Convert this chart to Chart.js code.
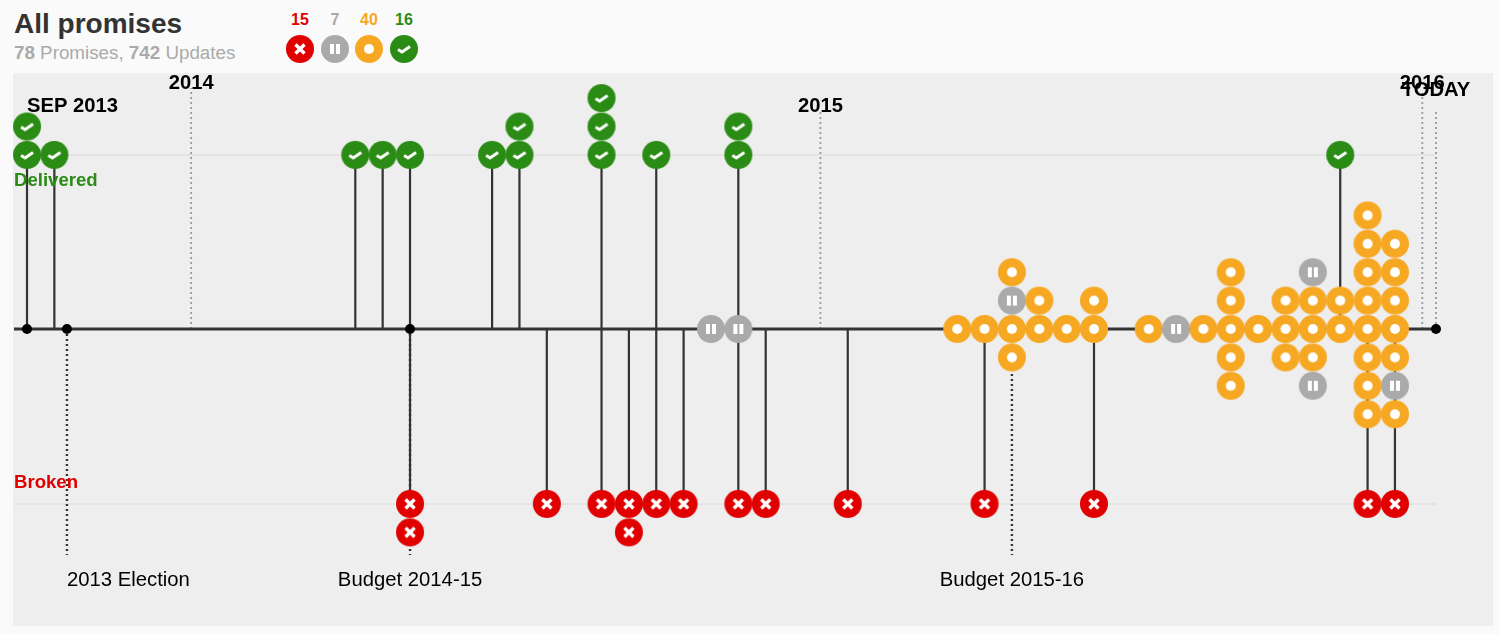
<!DOCTYPE html>
<html>
<head>
<meta charset="utf-8">
<title>All promises</title>
<script src="https://cdn.jsdelivr.net/npm/chart.js@4"></script>
<style>
  body { margin: 0; background: #fafafa; font-family: "Liberation Sans", Arial, sans-serif; }
  #panel { position: absolute; left: 13px; top: 73px; width: 1480px; height: 553px; background: #eee; }
  #wrap { position: absolute; left: 0; top: 0; width: 1500px; height: 634px; }
  h1 { position: absolute; left: 14px; top: 8px; margin: 0; font-size: 28px; line-height: 32px; color: #333; }
  #sub { position: absolute; left: 14px; top: 42px; font-size: 18.8px; line-height: 22px; color: #aaa; }
  .count { position: absolute; top: 11px; width: 40px; text-align: center; font-size: 16px; line-height: 18px; font-weight: bold; }
  .badge { position: absolute; top: 34px; }
</style>
</head>
<body>
<div id="panel"></div>
<h1>All promises</h1>
<div id="sub"><b>78</b> Promises, <b>742</b> Updates</div>
<div id="legend"></div>
<div id="wrap"><canvas id="timeline"></canvas></div>

<script>
// x = slot along the timeline, y = rows above (+) or below (-) the main line
const deliveredX = [0, 0, 1, 12, 13, 14, 17, 18, 18, 21, 21, 21, 23, 26, 26, 48];
const deliveredY = [6.13, 7.13, 6.13, 6.13, 6.13, 6.13, 6.13, 6.13, 7.13, 6.13, 7.13, 8.13, 6.13, 6.13, 7.13, 6.13];

const brokenX = [14, 14, 19, 21, 22, 22, 23, 24, 26, 27, 30, 35, 39, 49, 50];
const brokenY = [-6.16, -7.16, -6.16, -6.16, -6.16, -7.16, -6.16, -6.16, -6.16, -6.16, -6.16, -6.16, -6.16, -6.16, -6.16];

const stalledX = [25, 26, 36, 42, 47, 47, 50];
const stalledY = [0, 0, 1, 0, 2, -2, -2];

const progressX = [34, 35, 36, 36, 36, 37, 37, 38, 39, 39, 41, 43, 44, 44, 44, 44, 44, 45, 46, 46, 46, 47, 47, 47, 48, 48,
  49, 49, 49, 49, 49, 49, 49, 49, 50, 50, 50, 50, 50, 50];
const progressY = [0, 0, 2, 0, -1, 1, 0, 0, 1, 0, 0, 0, 2, 1, 0, -1, -2, 0, 1, 0, -1, 1, 0, -1, 1, 0,
  4, 3, 2, 1, 0, -1, -2, -3, 3, 2, 1, 0, -1, -3];

const statusNames = ["broken", "stalled", "progress", "delivered"];
const statusCounts = [15, 7, 40, 16];

const yearLabels = ["2014", "2015", "2016"];
const yearX = [6, 29, 51];
const yearTop = [8.49, 7.64, 8.31];
const todayX = 51.5;
const todayTop = 7.64;
const startX = -0.475;

const eventLabels = ["2013 Election", "Budget 2014-15", "Budget 2015-16"];
const eventX = [1.46, 14, 36];
const eventBottom = -7.96;
const markerX = [0, 1.46, 14, 51.5];

const colors = { broken: "#e00000", stalled: "#aaaaaa", progress: "#f7a823", delivered: "#2a8c15" };

function makeIcon(kind) {
  const c = document.createElement("canvas");
  c.width = 30;
  c.height = 30;
  const g = c.getContext("2d");
  g.fillStyle = colors[kind];
  g.beginPath();
  g.arc(15, 15, 14, 0, Math.PI * 2);
  g.fill();
  g.fillStyle = "#fff";
  g.strokeStyle = "#fff";
  g.lineWidth = 3.4;
  if (kind === "broken") {
    g.beginPath();
    g.moveTo(10.5, 10.5);
    g.lineTo(19.5, 19.5);
    g.moveTo(19.5, 10.5);
    g.lineTo(10.5, 19.5);
    g.stroke();
  } else if (kind === "stalled") {
    g.fillRect(10, 10, 4, 10);
    g.fillRect(16, 10, 4, 10);
  } else if (kind === "progress") {
    g.beginPath();
    g.arc(15, 15, 5, 0, Math.PI * 2);
    g.fill();
  } else {
    g.lineWidth = 3;
    g.beginPath();
    g.moveTo(9, 15.5);
    g.lineTo(13, 18);
    g.lineTo(21, 12.5);
    g.stroke();
  }
  return c;
}

const icons = {};
statusNames.forEach(function (name) {
  icons[name] = makeIcon(name);
});

// header counts with their badges
const legendCenters = [300, 335, 369, 404];
statusNames.forEach(function (name, i) {
  const n = document.createElement("div");
  n.className = "count";
  n.style.left = legendCenters[i] - 20 + "px";
  n.style.color = colors[name];
  n.textContent = statusCounts[i];
  document.getElementById("legend").appendChild(n);
  const b = makeIcon(name);
  b.className = "badge";
  b.style.left = legendCenters[i] - 15 + "px";
  document.getElementById("legend").appendChild(b);
});

function toPoints(xs, ys) {
  return xs.map(function (x, i) {
    return { x: x, y: ys[i] };
  });
}

// vertical segments from the main line, separated by gaps
function stems(xs, ys) {
  const pts = [];
  xs.forEach(function (x, i) {
    pts.push({ x: x, y: 0 }, { x: x, y: ys[i] }, { x: x, y: null });
  });
  return pts;
}

function lineSet(data, color, width, dash, order) {
  return {
    data: data,
    showLine: true,
    borderColor: color,
    borderWidth: width,
    borderDash: dash,
    pointRadius: 0,
    spanGaps: false,
    order: order,
  };
}

function iconSet(kind, xs, ys) {
  return {
    data: toPoints(xs, ys),
    pointStyle: icons[kind],
    pointRadius: 14,
    showLine: false,
    clip: false,
    order: 1,
  };
}

const deliveredRows = deliveredY.filter(function (y) { return y === 6.13; });
const deliveredBase = deliveredX.filter(function (x, i) { return deliveredY[i] === 6.13; });
const brokenRows = brokenY.filter(function (y) { return y === -6.16; });
const brokenBase = brokenX.filter(function (x, i) { return brokenY[i] === -6.16; });

const labelPlugin = {
  id: "timelineLabels",
  afterDatasetsDraw(chart) {
    const g = chart.ctx;
    const sx = chart.scales.x;
    function put(text, x, y, font, color, align) {
      g.font = font + ' "Liberation Sans", Arial, sans-serif';
      g.fillStyle = color;
      g.textAlign = align;
      g.textBaseline = "middle";
      g.fillText(text, x, y);
    }
    g.save();
    const yearY = [83, 106, 83];
    yearLabels.forEach(function (t, i) {
      put(t, sx.getPixelForValue(yearX[i]), yearY[i], "bold 20.2px", "#000", "center");
    });
    put("TODAY", sx.getPixelForValue(todayX), 90, "bold 20.2px", "#000", "center");
    put("SEP 2013", 27, 106, "bold 20.2px", "#000", "left");
    put("Delivered", 14, 181, "bold 18.6px", colors.delivered, "left");
    put("Broken", 14, 483, "bold 18.6px", colors.broken, "left");
    put(eventLabels[0], sx.getPixelForValue(eventX[0]), 580, "20.3px", "#000", "left");
    put(eventLabels[1], sx.getPixelForValue(eventX[1]), 580, "20.3px", "#000", "center");
    put(eventLabels[2], sx.getPixelForValue(eventX[2]), 580, "20.3px", "#000", "center");
    g.restore();
  },
};

new Chart(document.getElementById("timeline").getContext("2d"), {
  type: "scatter",
  data: {
    datasets: [
      iconSet("delivered", deliveredX, deliveredY),
      iconSet("broken", brokenX, brokenY),
      iconSet("stalled", stalledX, stalledY),
      iconSet("progress", progressX, progressY),
      {
        data: markerX.map(function (x) { return { x: x, y: 0 }; }),
        pointRadius: 5,
        backgroundColor: "#000",
        borderWidth: 0,
        order: 2,
      },
      lineSet(stems(deliveredBase, deliveredRows), "#333", 2.2, [], 3),
      lineSet(stems(brokenBase, brokenRows), "#333", 2.2, [], 3),
      lineSet([{ x: startX, y: 0 }, { x: todayX, y: 0 }], "#333", 3, [], 4),
      lineSet(stems(eventX, eventX.map(function () { return eventBottom; })), "#333", 2.4, [2, 3], 5),
      lineSet(stems(yearX, yearTop), "#999", 1.8, [2, 3], 5),
      lineSet(stems([todayX], [todayTop]), "#999", 1.8, [2, 3], 5),
      lineSet([{ x: startX, y: 6.13 }, { x: todayX, y: 6.13 }], "#e4e4e4", 2, [], 6),
      lineSet([{ x: startX, y: -6.16 }, { x: todayX, y: -6.16 }], "#e4e4e4", 2, [], 6),
    ],
  },
  options: {
    responsive: true,
    maintainAspectRatio: false,
    animation: false,
    layout: { padding: 0, autoPadding: false },
    plugins: {
      legend: { display: false },
      tooltip: { enabled: false },
    },
    scales: {
      x: { type: "linear", display: false, min: -0.987, max: 53.84 },
      y: { type: "linear", display: false, min: -10.74, max: 11.585 },
    },
  },
  plugins: [labelPlugin],
});
</script>
</body>
</html>
